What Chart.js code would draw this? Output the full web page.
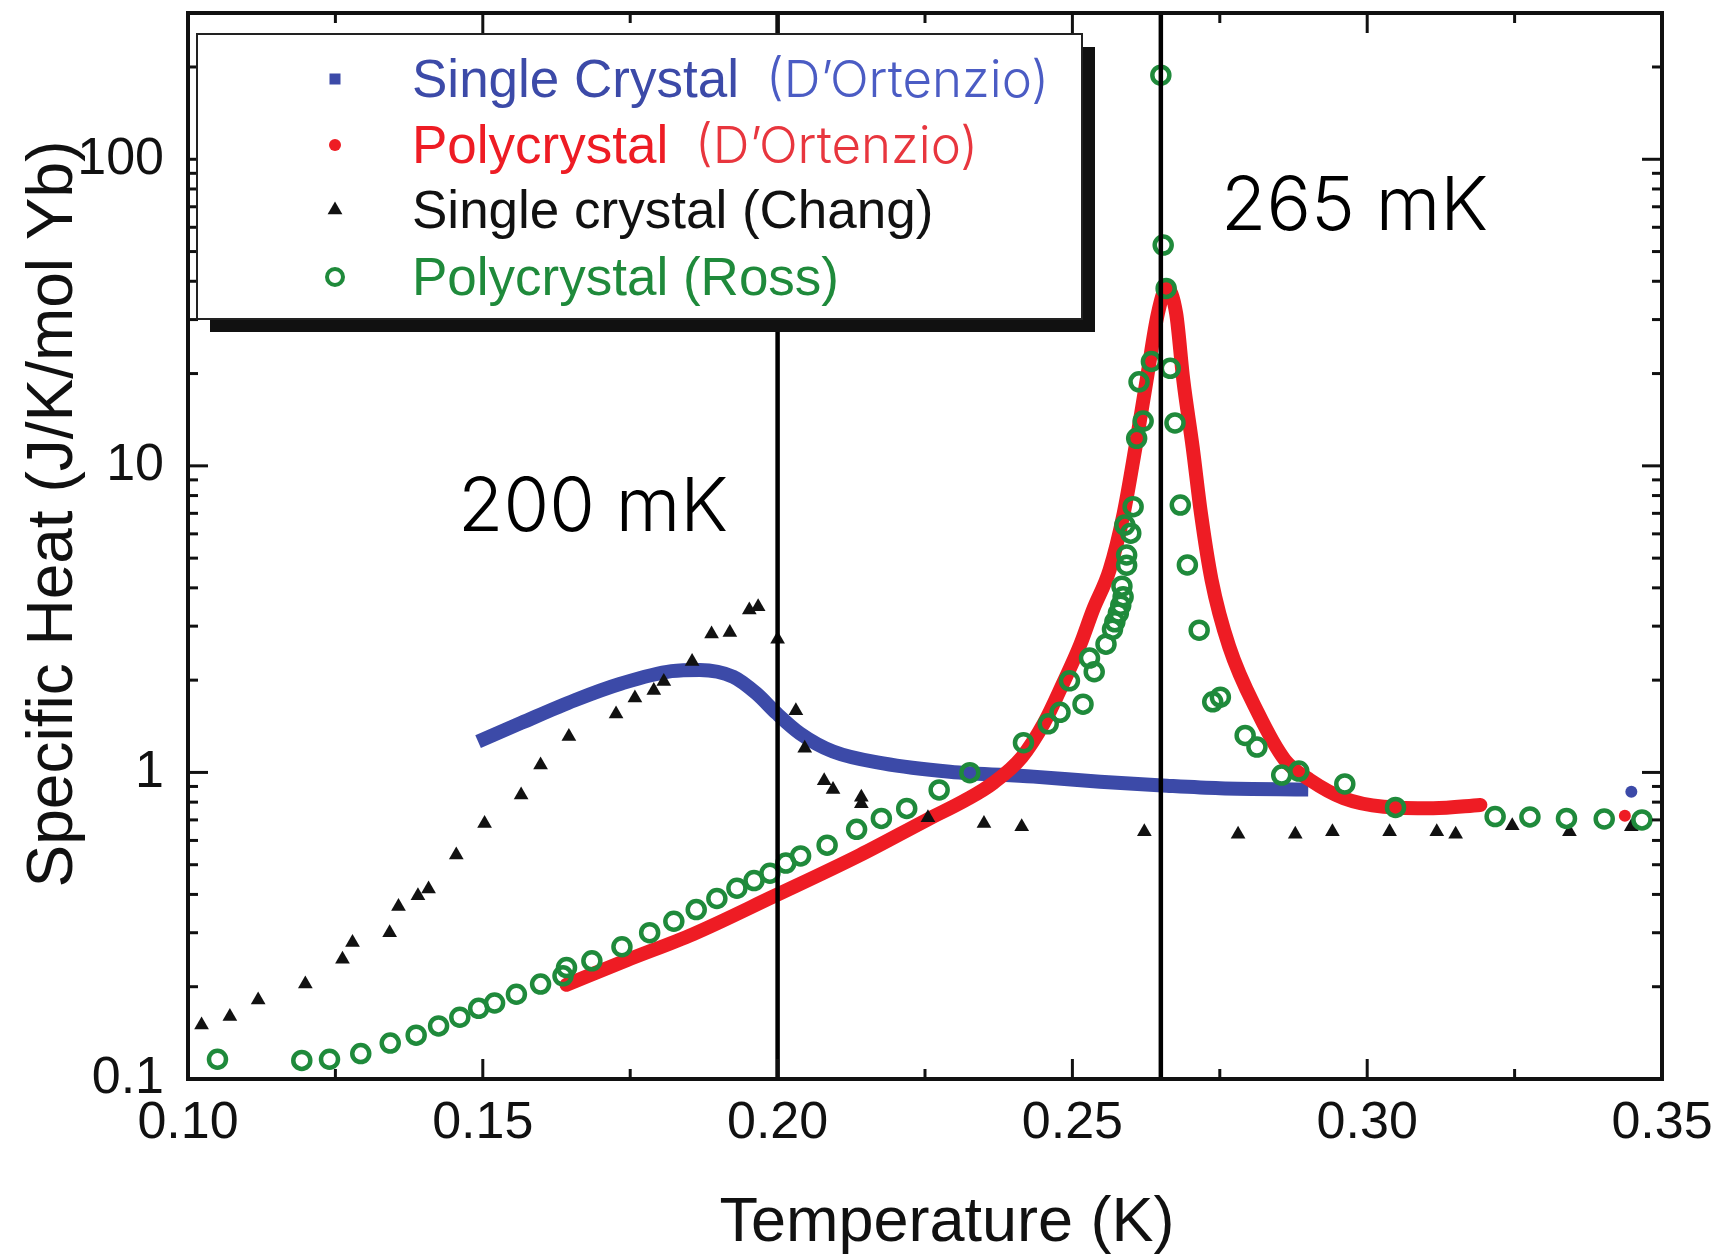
<!DOCTYPE html>
<html>
<head>
<meta charset="utf-8">
<title>Specific heat</title>
<script src="https://cdn.jsdelivr.net/npm/chart.js@4.4.1/dist/chart.umd.min.js"></script>
<style>
  html, body { margin: 0; padding: 0; background: #fff; }
  canvas { display: block; }
</style>
</head>
<body>
<canvas id="heatChart" width="1717" height="1255"></canvas>
<script>
// temperature in K, specific heat in J/K/mol Yb

// single crystal, D'Ortenzio (dense curve)
const scDortT = [0.1492, 0.1565, 0.1656, 0.1735, 0.1820, 0.1868, 0.1925, 0.1964, 0.1998, 0.2038,
                 0.2094, 0.2179, 0.2292, 0.2434, 0.2547, 0.2660, 0.2750, 0.2900];
const scDortC = [1.26, 1.45, 1.72, 1.95, 2.14, 2.16, 2.05, 1.81, 1.56, 1.34,
                 1.17, 1.07, 1.005, 0.969, 0.933, 0.905, 0.888, 0.880];

// polycrystal, D'Ortenzio (dense curve)
const pcDortT = [0.1642, 0.1744, 0.1857, 0.1993, 0.2140, 0.2253, 0.2320, 0.2366, 0.2414, 0.2452,
                 0.2484, 0.2513, 0.2535, 0.2563, 0.2587, 0.2607, 0.2626, 0.2645, 0.2660, 0.2676,
                 0.2688, 0.2704, 0.2718, 0.2736, 0.2766, 0.2815, 0.2860, 0.2903, 0.2960, 0.3028,
                 0.3112, 0.3192];
const pcDortC = [0.203, 0.244, 0.297, 0.394, 0.538, 0.700, 0.815, 0.925, 1.12, 1.45,
                 1.95, 2.60, 3.39, 4.57, 7.0, 11.5, 19.1, 31.4, 38.0, 31.4,
                 19.1, 11.5, 7.0, 4.25, 2.57, 1.56, 1.10, 0.945, 0.824, 0.773,
                 0.764, 0.783];

// lone points at the right edge
const scDortExtraT = [0.3448];
const scDortExtraC = [0.865];
const pcDortExtraT = [0.3437];
const pcDortExtraC = [0.722];

// single crystal, Chang
const changT = [0.1023, 0.1071, 0.1119, 0.1199, 0.1262, 0.1279, 0.1342, 0.1357, 0.1390, 0.1408,
                0.1455, 0.1503, 0.1565, 0.1598, 0.1646, 0.1726, 0.1758, 0.1790, 0.1807, 0.1855,
                0.1888, 0.1919, 0.1952, 0.1967, 0.2000, 0.2031, 0.2046, 0.2079, 0.2094, 0.2142,
                0.2142, 0.2255, 0.2350, 0.2414, 0.2622, 0.2781, 0.2878, 0.2941, 0.3038, 0.3118,
                0.3150, 0.3246, 0.3343, 0.3448];
const changC = [0.150, 0.160, 0.181, 0.204, 0.246, 0.279, 0.300, 0.365, 0.396, 0.417,
                0.538, 0.682, 0.844, 1.057, 1.31, 1.55, 1.75, 1.85, 1.98, 2.30,
                2.83, 2.86, 3.39, 3.47, 2.72, 1.59, 1.20, 0.94, 0.88, 0.83,
                0.79, 0.711, 0.682, 0.665, 0.641, 0.629, 0.629, 0.641, 0.641, 0.641,
                0.629, 0.67, 0.641, 0.665];

// polycrystal, Ross
const rossT = [0.1050, 0.1193, 0.1240, 0.1293, 0.1343, 0.1387, 0.1425, 0.1461, 0.1493, 0.1520,
               0.1557, 0.1598, 0.1636, 0.1642, 0.1685, 0.1736, 0.1783, 0.1824, 0.1862, 0.1897,
               0.1931, 0.1960, 0.1987, 0.2014, 0.2039, 0.2084, 0.2134, 0.2176, 0.2219, 0.2274,
               0.2326, 0.2417, 0.2459, 0.2479, 0.2518, 0.2495, 0.2537, 0.2529, 0.2557, 0.2568,
               0.2572, 0.2578, 0.2582, 0.2586, 0.2584, 0.2592, 0.2592, 0.2599, 0.2589, 0.2603,
               0.2609, 0.2620, 0.2613, 0.2634, 0.2659, 0.2654, 0.2650, 0.2666, 0.2674, 0.2683,
               0.2695, 0.2715, 0.2738, 0.2751, 0.2793, 0.2813, 0.2855, 0.2884, 0.2962, 0.3048,
               0.3217, 0.3276, 0.3338, 0.3402, 0.3466];
const rossC = [0.116, 0.115, 0.116, 0.121, 0.131, 0.139, 0.149, 0.159, 0.170, 0.177,
               0.189, 0.204, 0.217, 0.231, 0.243, 0.270, 0.300, 0.327, 0.357, 0.388,
               0.419, 0.444, 0.469, 0.506, 0.534, 0.579, 0.652, 0.708, 0.763, 0.877,
               0.998, 1.25, 1.44, 1.57, 1.67, 1.99, 2.13, 2.36, 2.62, 2.93,
               3.10, 3.31, 3.51, 3.74, 4.05, 4.74, 5.12, 6.03, 6.41, 7.36,
               12.3, 14.0, 18.8, 21.9, 37.9, 52.5, 188, 20.8, 13.8, 7.45,
               4.75, 2.91, 1.70, 1.76, 1.32, 1.21, 0.98, 1.01, 0.917, 0.769,
               0.718, 0.716, 0.708, 0.705, 0.700];

const xTicks = [0.10, 0.15, 0.20, 0.25, 0.30, 0.35];
const yTicks = [0.1, 1, 10, 100];

const transitionT = [0.200, 0.265];
const transitionLabels = ['200 mK', '265 mK'];

const legendNames = ['Single Crystal', 'Polycrystal', 'Single crystal (Chang)', 'Polycrystal (Ross)'];
const legendSources = ['(D\u2019Ortenzio)', '(D\u2019Ortenzio)', '', ''];

const BLUE = '#3c4aa8';
const RED = '#ee1c24';
const GREEN = '#1f8a3b';
const BLACK = '#111111';

const SANS = "'Liberation Sans', Arial, sans-serif";
const NEUE = "Inter, 'Liberation Sans', sans-serif";

const toPoints = (xs, ys) => xs.map((x, i) => ({ x: x, y: ys[i] }));

// frame, inward ticks, transition lines, axis titles and the boxed legend
const decorations = {
    id: 'decorations',
    afterDatasetsDraw(chart) {
        const ctx = chart.ctx;
        const a = chart.chartArea;
        const xs = chart.scales.x;
        const ys = chart.scales.y;
        ctx.save();

        // transition temperatures
        ctx.strokeStyle = '#000';
        ctx.lineWidth = 4.5;
        transitionT.forEach(t => {
            const px = xs.getPixelForValue(t);
            ctx.beginPath();
            ctx.moveTo(px, a.top);
            ctx.lineTo(px, a.bottom);
            ctx.stroke();
        });

        // ticks pointing into the plot on all four sides
        ctx.lineWidth = 3;
        ctx.strokeStyle = '#111';
        const tick = (x0, y0, x1, y1) => {
            ctx.beginPath();
            ctx.moveTo(x0, y0);
            ctx.lineTo(x1, y1);
            ctx.stroke();
        };
        for (let v = 0.1; v <= 0.3501; v += 0.025) {
            const px = xs.getPixelForValue(v);
            const major = Math.abs(v / 0.05 - Math.round(v / 0.05)) < 1e-6;
            const len = major ? 20 : 10;
            tick(px, a.bottom, px, a.bottom - len);
            tick(px, a.top, px, a.top + len);
        }
        for (let d = 0.1; d < 1000; d *= 10) {
            for (let m = 1; m <= 9; m++) {
                const v = d * m;
                if (v > ys.max * 1.0001) continue;
                const py = ys.getPixelForValue(v);
                const len = m === 1 ? 20 : 10;
                tick(a.left, py, a.left + len, py);
                tick(a.right, py, a.right - len, py);
            }
        }

        // plot frame
        ctx.lineWidth = 4;
        ctx.strokeStyle = '#111';
        ctx.strokeRect(a.left, a.top, a.width, a.height);

        // transition labels
        ctx.fillStyle = '#000';
        ctx.font = '300 74px ' + NEUE;
        ctx.textAlign = 'left';
        ctx.textBaseline = 'alphabetic';
        ctx.fillText(transitionLabels[0], 458, 531);
        ctx.fillText(transitionLabels[1], 1221, 230);

        // axis titles
        ctx.fillStyle = '#111';
        ctx.font = '63px ' + SANS;
        ctx.textAlign = 'center';
        ctx.fillText('Temperature (K)', 947, 1241);
        ctx.save();
        ctx.translate(72, 514);
        ctx.rotate(-Math.PI / 2);
        ctx.font = '64px ' + SANS;
        ctx.fillText('Specific Heat (J/K/mol Yb)', 0, 0);
        ctx.restore();

        // legend box with a solid drop shadow
        const bx = 197, by = 34, bw = 885, bh = 285;
        ctx.fillStyle = '#111';
        ctx.fillRect(bx + 13, by + 13, bw, bh);
        ctx.fillStyle = '#fff';
        ctx.fillRect(bx, by, bw, bh);
        ctx.lineWidth = 2;
        ctx.strokeStyle = '#222';
        ctx.strokeRect(bx, by, bw, bh);

        const rowY = [79, 145, 210, 277];
        const mx = 335;
        // markers
        ctx.fillStyle = BLUE;
        ctx.fillRect(mx - 5.5, rowY[0] - 5.5, 11, 11);
        ctx.fillStyle = RED;
        ctx.beginPath();
        ctx.arc(mx, rowY[1], 6, 0, Math.PI * 2);
        ctx.fill();
        ctx.fillStyle = BLACK;
        ctx.beginPath();
        ctx.moveTo(mx, rowY[2] - 8.5);
        ctx.lineTo(mx + 7.4, rowY[2] + 4.25);
        ctx.lineTo(mx - 7.4, rowY[2] + 4.25);
        ctx.closePath();
        ctx.fill();
        ctx.strokeStyle = GREEN;
        ctx.lineWidth = 4;
        ctx.beginPath();
        ctx.arc(mx, rowY[3], 8, 0, Math.PI * 2);
        ctx.stroke();

        // names
        const textColors = [BLUE, RED, BLACK, GREEN];
        const sourceColors = ['#4b5cc4', '#e8363e'];
        const sourceX = [766, 695];
        ctx.textAlign = 'left';
        legendNames.forEach((name, i) => {
            const base = rowY[i] + 18;
            ctx.font = '53px ' + SANS;
            ctx.fillStyle = textColors[i];
            ctx.fillText(name, 412, base);
            if (legendSources[i]) {
                ctx.font = '300 51px ' + NEUE;
                ctx.fillStyle = sourceColors[i];
                ctx.fillText(legendSources[i], sourceX[i], base);
            }
        });

        ctx.restore();
    }
};

Chart.defaults.font.family = SANS;
Chart.defaults.color = '#111';

new Chart(document.getElementById('heatChart'), {
    type: 'scatter',
    data: {
        datasets: [
            {
                label: 'Polycrystal (Ross)',
                data: toPoints(rossT, rossC),
                order: 1,
                pointStyle: 'circle',
                pointRadius: 8.5,
                pointBorderWidth: 4.5,
                pointBorderColor: GREEN,
                pointBackgroundColor: 'rgba(255,255,255,0)',
                showLine: false
            },
            {
                label: 'Single crystal (Chang)',
                data: toPoints(changT, changC),
                order: 2,
                pointStyle: 'triangle',
                pointRadius: 8.5,
                pointBorderWidth: 0,
                pointBackgroundColor: BLACK,
                showLine: false
            },
            {
                label: 'Polycrystal (D\u2019Ortenzio)',
                data: toPoints(pcDortT, pcDortC),
                order: 3,
                showLine: true,
                pointRadius: 0,
                borderColor: RED,
                borderWidth: 14,
                borderJoinStyle: 'round',
                borderCapStyle: 'round',
                cubicInterpolationMode: 'monotone'
            },
            {
                label: 'Single Crystal (D\u2019Ortenzio)',
                data: toPoints(scDortT, scDortC),
                order: 4,
                showLine: true,
                pointRadius: 0,
                borderColor: BLUE,
                borderWidth: 14,
                borderJoinStyle: 'round',
                borderCapStyle: 'butt',
                cubicInterpolationMode: 'monotone'
            },
            {
                label: 'sc extra',
                data: toPoints(scDortExtraT, scDortExtraC),
                order: 5,
                pointRadius: 6,
                pointBorderWidth: 0,
                pointBackgroundColor: BLUE
            },
            {
                label: 'pc extra',
                data: toPoints(pcDortExtraT, pcDortExtraC),
                order: 5,
                pointRadius: 6,
                pointBorderWidth: 0,
                pointBackgroundColor: RED
            }
        ]
    },
    options: {
        responsive: false,
        animation: false,
        devicePixelRatio: 1,
        events: [],
        layout: { padding: { top: 11, right: 55, left: 0, bottom: 0 } },
        plugins: {
            legend: { display: false },
            tooltip: { enabled: false }
        },
        scales: {
            x: {
                type: 'linear',
                min: 0.1,
                max: 0.35,
                grid: { display: false, drawTicks: false },
                border: { display: false },
                afterBuildTicks: scale => { scale.ticks = xTicks.map(v => ({ value: v })); },
                afterFit: scale => { scale.height = 176; scale.paddingLeft = 0; scale.paddingRight = 0; },
                ticks: {
                    font: { size: 52, family: SANS },
                    color: '#111',
                    padding: 13,
                    maxRotation: 0,
                    autoSkip: false,
                    callback: v => Number(v).toFixed(2)
                }
            },
            y: {
                type: 'logarithmic',
                min: 0.1,
                max: 300,
                grid: { display: false, drawTicks: false },
                border: { display: false },
                afterBuildTicks: scale => { scale.ticks = yTicks.map(v => ({ value: v })); },
                afterFit: scale => { scale.width = 188; scale.paddingTop = 0; scale.paddingBottom = 0; },
                ticks: {
                    font: { size: 52, family: SANS },
                    color: '#111',
                    padding: 24,
                    autoSkip: false,
                    callback: v => String(v)
                }
            }
        }
    },
    plugins: [decorations]
});
</script>
</body>
</html>
